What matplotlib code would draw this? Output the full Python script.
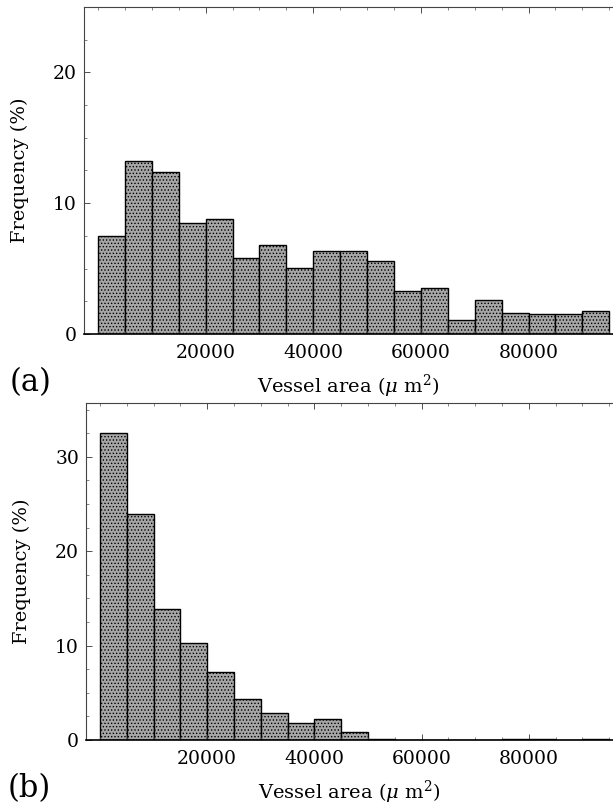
#!/usr/bin/env python3

# Vessel area histograms, panels (a) and (b)

import numpy as np
import matplotlib.pyplot as plt
from matplotlib.ticker import MultipleLocator, FixedLocator

plt.rcParams['font.family'] = ['DejaVu Serif']
plt.rcParams['mathtext.fontset'] = 'dejavuserif'
plt.rcParams['hatch.color'] = '#6e6e6e'
plt.rcParams['hatch.linewidth'] = 0.6

bin_width = 5000
bins_a = np.arange(0, 95000, bin_width)
freq_a = [7.5, 13.2, 12.4, 8.5, 8.8, 5.8, 6.8, 5.05, 6.35, 6.35,
          5.55, 3.3, 3.55, 1.05, 2.6, 1.6, 1.55, 1.55, 1.75]

bins_b = np.arange(0, 95000, bin_width)
freq_b = [32.5, 23.9, 13.9, 10.3, 7.2, 4.3, 2.9, 1.8, 2.2, 0.8,
          0.08, 0.05, 0.05, 0.05, 0.05, 0.08, 0.1, 0.05, 0.08]

xticks = [20000, 40000, 60000, 80000]
xlabel = 'Vessel area ($\\mu$ m$^{2}$)'
ylabel = 'Frequency (%)'

W, H = 613, 811
fig = plt.figure(figsize=(W / 100, H / 100), dpi=100)


def panel(rect, bins, freq, ylim, yticks):
    ax = fig.add_axes(rect)
    ax.bar(bins, freq, width=bin_width, align='edge',
           color='#a6a6a6', edgecolor='black', linewidth=1.0, hatch='.....')
    ax.set_xlim(-2600, 95700)
    ax.set_ylim(*ylim)
    ax.xaxis.set_major_locator(FixedLocator(xticks))
    ax.xaxis.set_minor_locator(MultipleLocator(5000))
    ax.yaxis.set_major_locator(FixedLocator(yticks))
    ax.yaxis.set_minor_locator(MultipleLocator(2.5))
    ax.tick_params(which='major', direction='in', length=4, width=0.6,
                   labelsize=13.5, colors='#333333', labelcolor='black',
                   top=True)
    ax.tick_params(which='minor', direction='in', length=2, width=0.5,
                   colors='#555555', top=True)
    ax.tick_params(axis='x', which='major', pad=7)
    ax.tick_params(axis='y', which='major', pad=5)
    ax.spines['right'].set_visible(False)
    for s in ('left', 'top'):
        ax.spines[s].set_linewidth(0.8)
        ax.spines[s].set_color('#444444')
    ax.spines['bottom'].set_linewidth(1.2)
    ax.set_xlabel(xlabel, fontsize=14, labelpad=8)
    ax.set_ylabel(ylabel, fontsize=14)
    ax.yaxis.set_label_coords(-55 / (W * rect[2]), 0.5)
    return ax


# top panel (a)
ax1 = panel([84 / W, (H - 334) / H, (W - 84) / W, 327 / H],
            bins_a, freq_a, (0, 25), [0, 10, 20])
# bottom panel (b)
ax2 = panel([86 / W, (H - 740) / H, (W - 86) / W, 337 / H],
            bins_b, freq_b, (0, 35.7), [0, 10, 20, 30])

fig.text(10 / W, 1 - 383 / H, '(a)', fontsize=22, va='center', ha='left')
fig.text(8 / W, 1 - 789 / H, '(b)', fontsize=22, va='center', ha='left')

plt.savefig('out.png', dpi=100)
